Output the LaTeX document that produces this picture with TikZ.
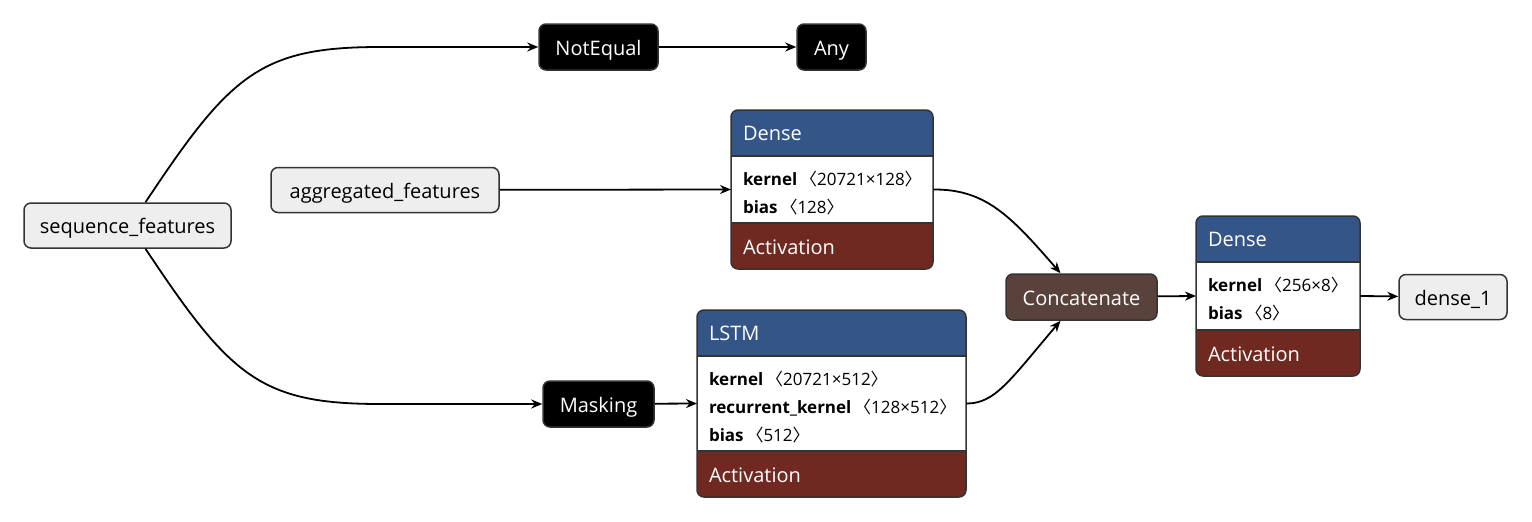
\documentclass[tikz,border=0pt]{standalone}
\usepackage{fontspec}
\setmainfont{Open Sans}
\newfontfamily\cjk{Noto Sans CJK SC}
\usetikzlibrary{arrows.meta,positioning}
\definecolor{lineclr}{HTML}{333333}
\definecolor{inputfill}{HTML}{EEEEEE}
\definecolor{layerblue}{HTML}{335588}
\definecolor{actred}{HTML}{702921}
\definecolor{tensorbrown}{HTML}{59423B}
\newcommand{\attr}[2]{\textbf{#1}\,{\cjk 〈}#2{\cjk 〉}}

\begin{document}
\begin{tikzpicture}[
  x=1pt, y=-1pt,
  io/.style={draw=lineclr, fill=inputfill, line width=1.5pt, rounded corners=7pt, minimum height=45pt, inner sep=0pt, text height=18pt, text depth=2pt, font=\fontsize{20}{24}\selectfont},
  op/.style={draw=lineclr, fill=black, text=white, line width=1.5pt, rounded corners=7pt, minimum height=46pt, inner sep=0pt, text height=18pt, text depth=2pt, font=\fontsize{20}{24}\selectfont},
  hdr/.style={fill=layerblue, text=white, text width=#1, align=left, minimum height=46pt, inner xsep=12pt, inner ysep=0pt, outer sep=0pt, text height=17.5pt, text depth=2.5pt, font=\fontsize{20}{24}\selectfont},
  attrs/.style={fill=white, text width=#1, align=left, inner xsep=12pt, inner ysep=0pt, outer sep=0pt, font=\fontsize{17}{28}\selectfont, execute at begin node={\rule{0pt}{21pt}}},
  act/.style={fill=actred, text=white, text width=#1, align=left, minimum height=46pt, inner xsep=12pt, inner ysep=0pt, outer sep=0pt, text height=18.5pt, text depth=1.5pt, font=\fontsize{20}{24}\selectfont},
  frame/.style={draw=lineclr, line width=1.5pt, rounded corners=7pt},
  sep/.style={draw=lineclr, line width=1.5pt},
  edge/.style={-{Stealth[length=11pt,width=9pt,inset=3.5pt]}, line width=1.8pt},
]
\useasboundingbox (0,0) rectangle (1532,522);

% inputs and simple ops
\node[io, minimum width=207pt] (seq) at (127.5,225.5) {sequence\_features};
\node[io, minimum width=228pt] (agg) at (385,190) {aggregated\_features};
\node[op, minimum width=119pt] (noteq) at (598.5,47) {NotEqual};
\node[op, minimum width=69pt] (any) at (831.5,47) {Any};
\node[op, minimum width=111pt] (mask) at (598.5,404) {Masking};
\node[op, fill=tensorbrown, minimum width=151pt] (concat) at (1081.5,297) {Concatenate};
\node[io, minimum width=108pt] (out) at (1453,297) {dense\_1};

% Dense
\begin{scope}
  \clip[rounded corners=7pt] (731,110) rectangle (933,269);
  \node[hdr=178pt, anchor=north west] (dense) at (731,110) {Dense};
  \node[attrs=178pt, minimum height=67pt, below=0pt of dense] (densew) {\attr{kernel}{20721×128}\\\attr{bias}{128}};
  \node[act=178pt, below=0pt of densew] (denseact) {Activation};
\end{scope}
\draw[frame] (dense.north west) rectangle (denseact.south east);
\draw[sep] (densew.north west) -- (densew.north east) (densew.south west) -- (densew.south east);

% LSTM
\begin{scope}
  \clip[rounded corners=7pt] (697,310) rectangle (966,497);
  \node[hdr=245pt, anchor=north west] (lstm) at (697,310) {LSTM};
  \node[attrs=245pt, minimum height=95pt, below=0pt of lstm] (lstmw) {\attr{kernel}{20721×512}\\\attr{recurrent\_kernel}{128×512}\\\attr{bias}{512}};
  \node[act=245pt, below=0pt of lstmw] (lstmact) {Activation};
\end{scope}
\draw[frame] (lstm.north west) rectangle (lstmact.south east);
\draw[sep] (lstmw.north west) -- (lstmw.north east) (lstmw.south west) -- (lstmw.south east);

% Dense (output)
\begin{scope}
  \clip[rounded corners=7pt] (1196,216) rectangle (1360,376);
  \node[hdr=140pt, anchor=north west] (dense2) at (1196,216) {Dense};
  \node[attrs=140pt, minimum height=68pt, below=0pt of dense2] (dense2w) {\attr{kernel}{256×8}\\\attr{bias}{8}};
  \node[act=140pt, below=0pt of dense2w] (dense2act) {Activation};
\end{scope}
\draw[frame] (dense2.north west) rectangle (dense2act.south east);
\draw[sep] (dense2w.north west) -- (dense2w.north east) (dense2w.south west) -- (dense2w.south east);

% edges
\draw[edge] ([xshift=18pt]seq.north) .. controls (230,75) and (260,47) .. (380,47) -- (noteq.west);
\draw[edge] ([xshift=18pt]seq.south) .. controls (230,376) and (260,404) .. (380,404) -- (mask.west);
\draw[edge] (noteq) -- (any);
\draw[edge] (agg) -- (densew.west);
\draw[edge] (mask) -- (lstmw.west);
\draw[edge] (densew.east) .. controls (985,189) and (1010,215) .. ([xshift=-21pt]concat.north);
\draw[edge] (lstmw.east) .. controls (995,404) and (1010,380) .. ([xshift=-21pt]concat.south);
\draw[edge] (concat) -- (dense2w.west);
\draw[edge] (dense2w.east) -- (out);

\end{tikzpicture}
\end{document}
